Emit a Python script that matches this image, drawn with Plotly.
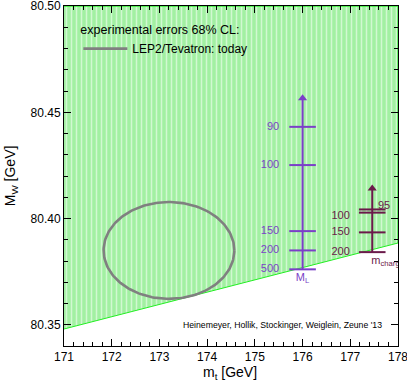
import numpy as np
import plotly.graph_objects as go

# allowed region (lower boundary of the green band), mt vs MW
band_mt = [171.0, 178.0]
band_mw_low = [80.348, 80.3885]
band_mw_top = 80.50

# LEP2/Tevatron today: central values and 68% CL half-axes
mt_central, mt_halfwidth = 173.2, 1.37
mw_central, mw_halfwidth = 80.385, 0.0228

# ladder for M_L (slepton mass) at mt = 176
ML_labels = ["90", "100", "150", "200", "500"]
ML_mw = [80.4432, 80.4252, 80.3941, 80.3850, 80.3761]
ML_top = 80.4567
ML_mt = 176.0

# ladder for chargino mass at mt = 177.5
cha_labels = ["95", "100", "150", "200"]
cha_mw = [80.4043, 80.4028, 80.3935, 80.3842]
cha_top = 80.4142
cha_mt = 177.46

x_ticks = [171, 172, 173, 174, 175, 176, 177, 178]
y_ticks = [80.35, 80.40, 80.45, 80.50]

purple = "#7b3fc8"
maroon = "#6b1a4a"
FONT = "Liberation Sans, Arial, sans-serif"

fig = go.Figure()

# green band
band_x = band_mt + band_mt[::-1]
band_y = band_mw_low + [band_mw_top, band_mw_top]
fig.add_trace(go.Scatter(
    x=band_x, y=band_y, fill="toself", mode="lines",
    line=dict(color="#22ee22", width=1),
    fillcolor="#b4f5b4",
    fillpattern=dict(shape="|", bgcolor="#a2f0a2", fgcolor="white",
                     size=5, solidity=0.3),
    showlegend=False, hoverinfo="skip"))

# ellipse
t = np.linspace(0, 2 * np.pi, 200)
fig.add_trace(go.Scatter(
    x=mt_central + mt_halfwidth * np.cos(t),
    y=mw_central + mw_halfwidth * np.sin(t),
    mode="lines", line=dict(color="#808080", width=2.6),
    name="LEP2/Tevatron: today"))

# M_L ladder
fig.add_trace(go.Scatter(x=[ML_mt, ML_mt], y=[ML_mw[-1], ML_top], mode="lines",
                         line=dict(color=purple, width=2), showlegend=False))
fig.add_trace(go.Scatter(x=[ML_mt], y=[ML_top], mode="markers",
                         marker=dict(symbol="triangle-up", size=8, color=purple),
                         showlegend=False))
fig.add_trace(go.Scatter(
    x=[ML_mt] * len(ML_mw), y=ML_mw, mode="markers",
    marker=dict(symbol="line-ew", size=19, line=dict(color=purple, width=2)),
    showlegend=False))
fig.add_trace(go.Scatter(
    x=[ML_mt - 0.49] * len(ML_mw), y=ML_mw, mode="text", text=ML_labels,
    textposition="middle left", textfont=dict(color=purple, size=11, family=FONT),
    showlegend=False))
fig.add_trace(go.Scatter(
    x=[ML_mt], y=[ML_mw[-1] - 0.0042], mode="text", text=["M<sub>L</sub>"],
    textposition="middle center", textfont=dict(color=purple, size=11, family=FONT),
    showlegend=False))

# chargino ladder
fig.add_trace(go.Scatter(x=[cha_mt, cha_mt], y=[cha_mw[-1], cha_top], mode="lines",
                         line=dict(color=maroon, width=2), showlegend=False))
fig.add_trace(go.Scatter(x=[cha_mt], y=[cha_top], mode="markers",
                         marker=dict(symbol="triangle-up", size=8, color=maroon),
                         showlegend=False))
fig.add_trace(go.Scatter(
    x=[cha_mt] * len(cha_mw), y=cha_mw, mode="markers",
    marker=dict(symbol="line-ew", size=19, line=dict(color=maroon, width=2)),
    showlegend=False))
fig.add_trace(go.Scatter(
    x=[cha_mt - 0.47] * 3, y=[cha_mw[1] - 0.0015, cha_mw[2], cha_mw[3]],
    mode="text", text=cha_labels[1:],
    textposition="middle left", textfont=dict(color=maroon, size=11, family=FONT),
    showlegend=False))
fig.add_trace(go.Scatter(
    x=[cha_mt + 0.12], y=[cha_mw[0] + 0.0013], mode="text", text=cha_labels[:1],
    textposition="middle right", textfont=dict(color=maroon, size=11, family=FONT),
    showlegend=False, cliponaxis=True))
fig.add_trace(go.Scatter(
    x=[cha_mt - 0.02], y=[cha_mw[-1] - 0.0042], mode="text",
    text=["m<sub>chargino</sub>"],
    textposition="middle right", textfont=dict(color=maroon, size=11, family=FONT),
    showlegend=False, cliponaxis=True))

fig.add_annotation(x=177.7, y=80.35, xref="x", yref="y",
                   text="Heinemeyer, Hollik, Stockinger, Weiglein, Zeune '13",
                   showarrow=False, xanchor="right", yanchor="middle",
                   font=dict(size=8.7, color="black", family=FONT))

# axis titles
fig.add_annotation(x=0.497, y=-0.078, xref="paper", yref="paper",
                   text="m<sub>t</sub> [GeV]", showarrow=False,
                   xanchor="center", yanchor="middle",
                   font=dict(size=14, color="black", family=FONT))
fig.add_annotation(x=-0.158, y=0.5, xref="paper", yref="paper",
                   text="M<sub>W</sub> [GeV]", showarrow=False, textangle=-90,
                   xanchor="center", yanchor="middle",
                   font=dict(size=14, color="black", family=FONT))

axis_common = dict(showgrid=False, zeroline=False, ticks="inside", mirror="allticks",
                   showline=True, linecolor="black", linewidth=1,
                   ticklen=7, tickcolor="black", automargin=False,
                   ticklabeloverflow="allow",
                   tickfont=dict(size=12, family=FONT, color="black"))

fig.update_xaxes(range=[171, 178], tickvals=x_ticks,
                 ticktext=[str(v) for v in x_ticks],
                 minor=dict(dtick=0.2, tick0=171, ticks="inside", ticklen=4,
                            tickcolor="black"),
                 **axis_common)
fig.update_yaxes(range=[80.34, 80.5001], tickvals=y_ticks,
                 ticktext=["%.2f" % v for v in y_ticks],
                 minor=dict(dtick=0.01, tick0=80.34, ticks="inside", ticklen=4,
                            tickcolor="black"),
                 **axis_common)

fig.update_layout(
    width=407, height=383,
    margin=dict(l=64, r=9, t=6, b=37),
    plot_bgcolor="white", paper_bgcolor="white",
    font=dict(family=FONT, color="black"),
    legend=dict(x=0.043, y=0.965, xanchor="left", yanchor="top",
                bgcolor="rgba(0,0,0,0)", itemwidth=44, tracegroupgap=4,
                title=dict(text="experimental errors 68% CL:", side="top",
                           font=dict(size=12.5, family=FONT)),
                font=dict(size=12, family=FONT)),
)

# page body has a default margin; drop it so the figure sits at the window origin
fig.write_html("out.html", config={"displayModeBar": False},
               post_script="document.body.style.margin='0';")
